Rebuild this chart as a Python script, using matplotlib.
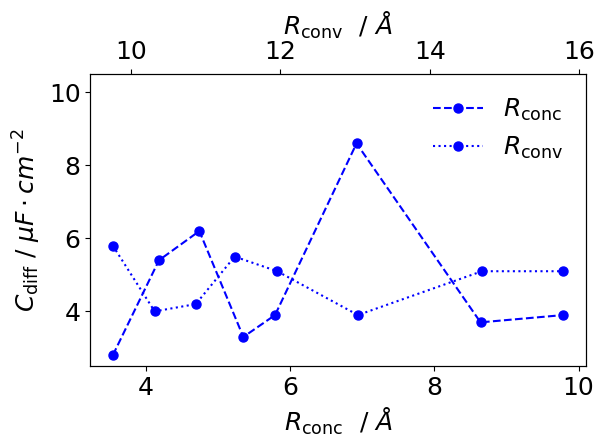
import matplotlib
matplotlib.use("Agg")
import matplotlib.pyplot as plt

# capacitance vs radius, two radius definitions
r_conc = [3.54, 4.18, 4.74, 5.35, 5.79, 6.92, 8.64, 9.79]
c_conc = [2.8, 5.4, 6.2, 3.3, 3.9, 8.6, 3.7, 3.9]

r_conv = [9.76, 10.32, 10.87, 11.39, 11.96, 13.04, 14.70, 15.79]
c_conv = [5.8, 4.0, 4.2, 5.5, 5.1, 3.9, 5.1, 5.1]

plt.rcParams['font.size'] = 18

fig, ax1 = plt.subplots(figsize=(6.06, 4.46), dpi=100)
ax2 = ax1.twiny()

l1, = ax1.plot(r_conc, c_conc, 'b--o', markersize=6.5, label=r'$R_\mathrm{conc}$')
l2, = ax2.plot(r_conv, c_conv, 'b:o', markersize=6.5, label=r'$R_\mathrm{conv}$')

ax1.set_ylim(2.5, 10.5)
ax1.set_xlabel(r'$R_\mathrm{conc}$  / $\AA$')
ax2.set_xlabel(r'$R_\mathrm{conv}$  / $\AA$')
ax1.set_ylabel(r'$C_\mathrm{diff}$ / $\mu F \cdot cm^{-2}$')

ax1.legend(handles=[l1, l2], loc='upper right', frameon=False)

plt.subplots_adjust(left=0.149, right=0.967, bottom=0.179, top=0.834)
plt.savefig('out.png')
